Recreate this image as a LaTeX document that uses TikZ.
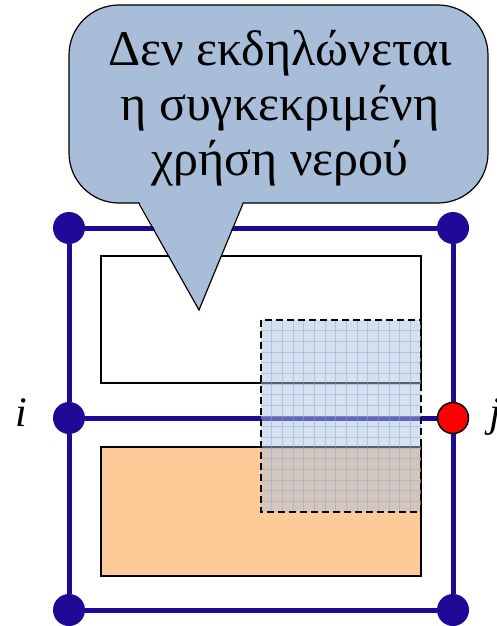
\documentclass[tikz,border=0pt]{standalone}
\usepackage{fontspec}
\setmainfont{Liberation Serif}
\definecolor{pipeblue}{RGB}{30,10,150}
\definecolor{calloutblue}{RGB}{167,189,216}
\definecolor{plotorange}{RGB}{254,202,152}
\definecolor{hatchblue}{RGB}{173,195,223}
\definecolor{hatchline}{RGB}{140,170,215}
\tikzset{
  junction/.style={circle,fill=pipeblue,minimum size=32pt,inner sep=0pt},
  hitnode/.style={circle,fill=red,draw=black,line width=1.5pt,minimum size=31pt,inner sep=0pt},
  pipe/.style={draw=pipeblue,line width=5pt},
  parcel/.style={draw=black,line width=2pt},
  bubble/.style={fill=calloutblue,draw=black,line width=1.2pt},
  endlabel/.style={font=\fontsize{42}{42}\selectfont\itshape,inner sep=0pt},
}
\begin{document}
\begin{tikzpicture}[x=1pt,y=-1pt]
  \useasboundingbox (0,0) rectangle (497,626);
  % junctions of the network
  \node[junction] (tl) at (69,228) {};
  \node[junction] (tr) at (453,228) {};
  \node[junction] (ni) at (69,418) {};
  \node[hitnode]  (nj) at (453,418) {};
  \node[junction] (bl) at (69,610) {};
  \node[junction] (br) at (453,610) {};
  \node[endlabel,anchor=base] (li) at (21,426) {i};
  \node[endlabel,anchor=base west] (lj) at (489,426) {j};
  % pipes
  \draw[pipe] (tl) -- (tr);
  \draw[pipe] (ni) -- (nj);
  \draw[pipe] (bl) -- (br);
  \draw[pipe] (tl) -- (ni);
  \draw[pipe] (ni) -- (bl);
  \draw[pipe] (tr) -- (nj);
  \draw[pipe] (nj) -- (br);
  % parcels
  \draw[parcel,fill=white] (101,256) rectangle (421,383);
  \draw[parcel,fill=plotorange] (101,447) rectangle (421,576);
  % hatched area
  \begin{scope}
    \clip (261,320) rectangle (421,512);
    \fill[hatchblue,opacity=.5] (261,320) rectangle (421,512);
    \foreach \k in {1,...,14}
      \draw[hatchline,opacity=.5,line width=.8pt] (261+\k*10.667,320) -- (261+\k*10.667,512);
    \foreach \k in {1,...,17}
      \draw[hatchline,opacity=.5,line width=.8pt] (261,320+\k*10.667) -- (421,320+\k*10.667);
  \end{scope}
  \draw[parcel,dashed,dash pattern=on 7pt off 4pt] (261,320) rectangle (421,512);
  % callout
  \node[bubble,rounded corners=50pt,minimum width=419pt,minimum height=198pt] (msg) at (278.5,104) {};
  \node[align=center,font=\fontsize{50}{55}\selectfont,anchor=base] (txt) at (280,175)
        {Δεν εκδηλώνεται\\η συγκεκριμένη\\χρήση νερού};
  \coordinate (tip) at (199,310);
  \fill[calloutblue] (139,201) -- (tip) -- (243,201) -- cycle;
  \draw[black,line width=1.2pt,line join=miter] (139,203.5) -- (tip) -- (243,203.5);
\end{tikzpicture}
\end{document}
